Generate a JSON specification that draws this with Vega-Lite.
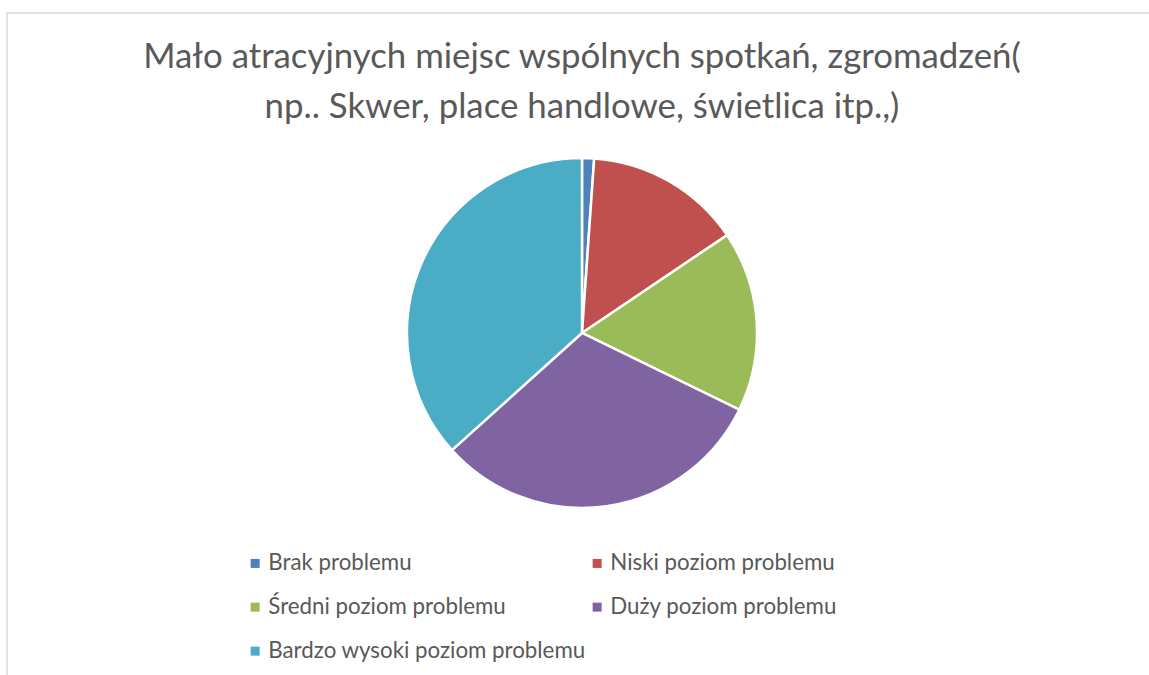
{
  "$schema": "https://vega.github.io/schema/vega-lite/v6.json",
  "width": 1150,
  "height": 670,
  "autosize": {"type": "none"},
  "padding": {"left": 7, "top": 13, "right": 0, "bottom": 0},
  "background": "white",
  "config": {
    "view": {"stroke": "#d9d9d9", "strokeWidth": 1.5},
    "font": "Lato"
  },
  "title": {
    "text": ["Mało atracyjnych miejsc wspólnych spotkań, zgromadzeń(", "np.. Skwer, place handlowe, świetlica itp.,)"],
    "orient": "top",
    "anchor": "middle",
    "frame": "group",
    "offset": -113,
    "font": "Lato",
    "fontSize": 34.8,
    "fontWeight": "normal",
    "color": "#595959",
    "lineHeight": 50
  },
  "data": {
    "values": [
      {"kategoria": "Brak problemu", "liczba": 1, "kolejnosc": 1},
      {"kategoria": "Niski poziom problemu", "liczba": 13, "kolejnosc": 2},
      {"kategoria": "Średni poziom problemu", "liczba": 15, "kolejnosc": 3},
      {"kategoria": "Duży poziom problemu", "liczba": 28, "kolejnosc": 4},
      {"kategoria": "Bardzo wysoki poziom problemu", "liczba": 33, "kolejnosc": 5}
    ]
  },
  "mark": {"type": "arc", "outerRadius": 175, "stroke": "white", "strokeWidth": 2.5},
  "encoding": {
    "theta": {"field": "liczba", "type": "quantitative", "stack": true},
    "order": {"field": "kolejnosc", "type": "quantitative"},
    "x": {"datum": 0.5, "type": "quantitative", "scale": {"domain": [0, 1]}, "axis": null},
    "y": {"datum": 0.5224, "type": "quantitative", "scale": {"domain": [0, 1]}, "axis": null},
    "color": {
      "field": "kategoria",
      "type": "nominal",
      "scale": {
        "domain": ["Brak problemu", "Niski poziom problemu", "Średni poziom problemu", "Duży poziom problemu", "Bardzo wysoki poziom problemu"],
        "range": ["#4F81BD", "#C0504D", "#9BBB59", "#8064A2", "#4BACC6"]
      },
      "legend": {
        "orient": "none",
        "legendX": 237,
        "legendY": 539,
        "direction": "horizontal",
        "columns": 2,
        "gridAlign": "each",
        "title": null,
        "symbolType": "square",
        "symbolSize": 81,
        "symbolStrokeWidth": 0,
        "labelFont": "Lato",
        "labelFontSize": 22.3,
        "labelColor": "#595959",
        "labelOffset": 2,
        "labelLimit": 500,
        "columnPadding": 0,
        "rowPadding": 21,
        "padding": 0
      }
    }
  }
}
